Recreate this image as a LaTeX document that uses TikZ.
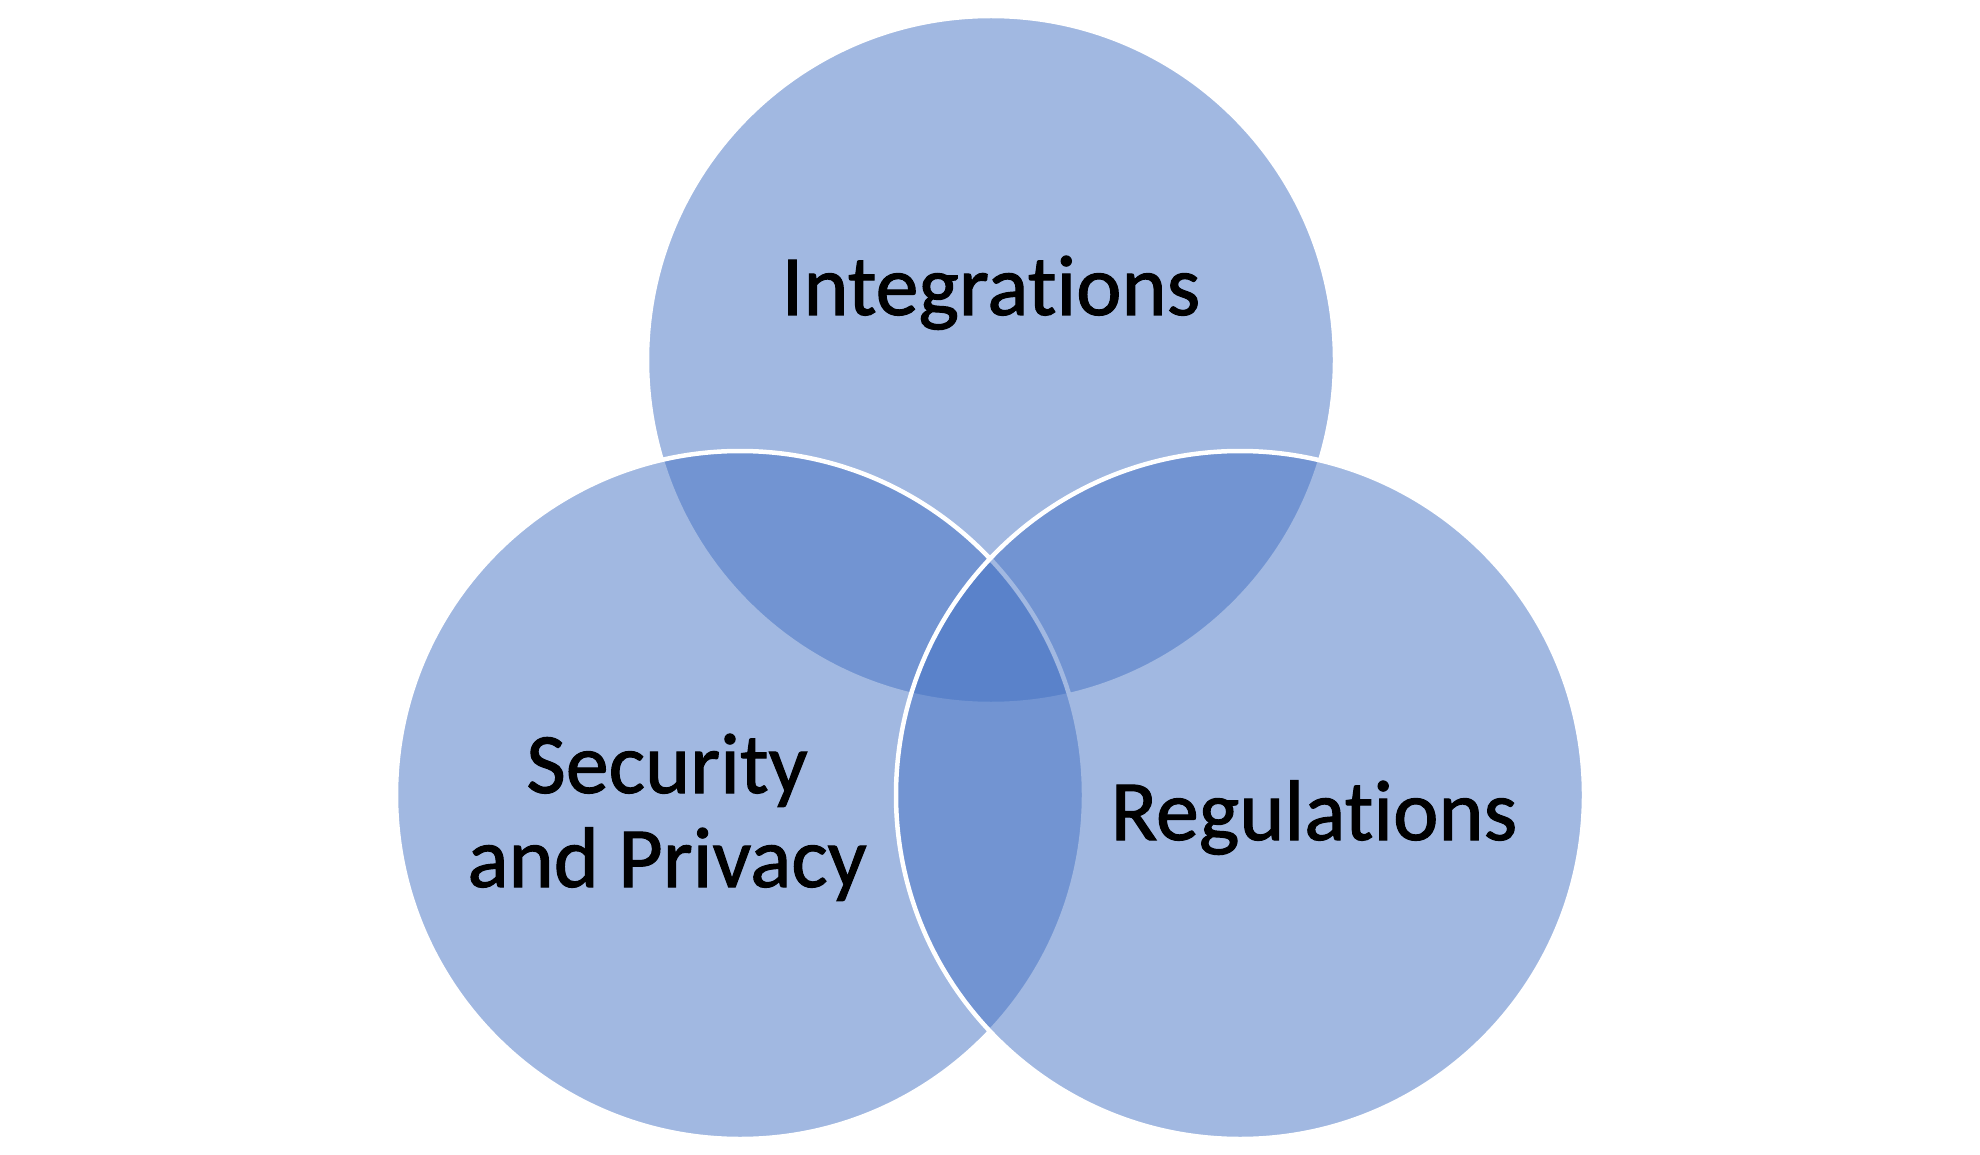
\documentclass[tikz,border=0pt]{standalone}
\usepackage{fontspec}
\setmainfont[Ligatures=NoCommon,FakeBold=1]{Carlito}
\newfontfamily\lblfont[Ligatures=NoCommon,FakeBold=1.2]{Carlito}
\definecolor{accent}{HTML}{4472C4}
\begin{document}
\begin{tikzpicture}[x=1pt,y=-1pt,
  venn/.style={circle,minimum size=688pt,inner sep=0pt,fill=accent,fill opacity=0.5,draw=white,draw opacity=1,line width=4.5pt},
  lbl/.style={font=\lblfont\fontsize{86}{94}\selectfont,text=black,align=center,inner sep=0pt,anchor=base}]
\useasboundingbox[fill=white] (0,0) rectangle (1980,1155);
\node[venn] (top) at (991,360) {};
\node[venn] (left) at (740,795) {};
\node[venn] (right) at (1240,795) {};
\node[lbl] (tI) at (991,315) {Integrations};
\node[lbl] (tS) at (667,887) {Security\\and Privacy};
\node[lbl] (tR) at (1314,840) {Regulations};
\end{tikzpicture}
\end{document}
